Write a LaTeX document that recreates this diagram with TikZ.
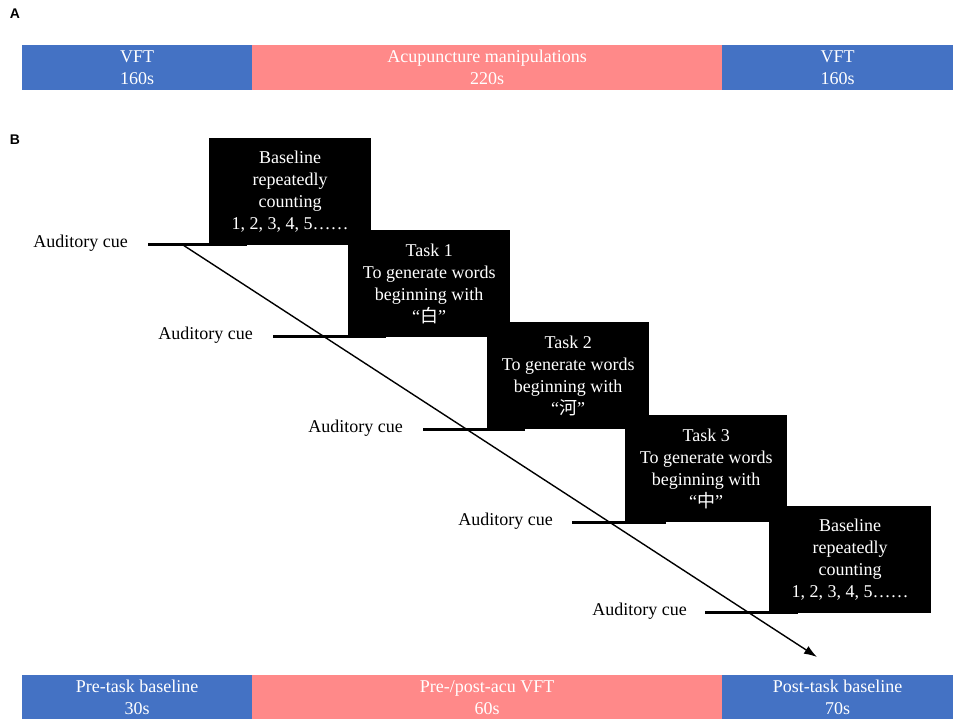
\documentclass[tikz,border=0pt]{standalone}
\usepackage{fontspec}
\setmainfont{Liberation Serif}
\newfontfamily\labelfont{Liberation Sans}
\newfontfamily\cjk{Noto Sans CJK SC}
\usetikzlibrary{arrows.meta}
\definecolor{barblue}{RGB}{68,114,196}
\definecolor{barpink}{RGB}{255,137,137}
\tikzset{
  bar/.style={anchor=north west, inner sep=0pt, minimum height=45pt, text=white, align=center, font=\fontsize{18}{22}\selectfont},
  bluebar/.style={bar, fill=barblue},
  pinkbar/.style={bar, fill=barpink},
  blackbox/.style={anchor=north west, inner sep=0pt, minimum width=162pt, minimum height=107pt, fill=black, text=white, align=center, font=\fontsize{18}{22}\selectfont},
  cuetext/.style={anchor=east, inner sep=0pt, font=\fontsize{18}{22}\selectfont},
  cueline/.style={line width=3pt},
  timearrow/.style={line width=1.4pt, -{Latex[length=13pt,width=9pt]}},
  panel/.style={inner sep=0pt, font=\labelfont\bfseries\fontsize{14}{16}\selectfont}
}
\begin{document}
\begin{tikzpicture}[x=1pt,y=-1pt]
\useasboundingbox (0,0) rectangle (957,727);
% panel labels
\node[panel] (lA) at (15,14) {A};
\node[panel] (lB) at (15,140) {B};
% top bar
\node[bluebar, minimum width=230pt] (a1) at (22,45) {VFT\\160s};
\node[pinkbar, minimum width=470pt] (a2) at (252,45) {Acupuncture manipulations\\220s};
\node[bluebar, minimum width=231pt] (a3) at (722,45) {VFT\\160s};
% bottom bar
\node[bluebar, minimum width=230pt, minimum height=44pt] (c1) at (22,675) {Pre-task baseline\\30s};
\node[pinkbar, minimum width=470pt, minimum height=44pt] (c2) at (252,675) {Pre-/post-acu VFT\\60s};
\node[bluebar, minimum width=231pt, minimum height=44pt] (c3) at (722,675) {Post-task baseline\\70s};
% black boxes
\node[blackbox] (b1) at (209,138) {Baseline\\repeatedly\\counting\\1, 2, 3, 4, 5……};
\node[blackbox] (b2) at (348,230) {Task 1\\To generate words\\beginning with\\“{\cjk 白}”};
\node[blackbox] (b3) at (487,322) {Task 2\\To generate words\\beginning with\\“{\cjk 河}”};
\node[blackbox] (b4) at (625,415) {Task 3\\To generate words\\beginning with\\“{\cjk 中}”};
\node[blackbox] (b5) at (769,506) {Baseline\\repeatedly\\counting\\1, 2, 3, 4, 5……};
% auditory cues
\node[cuetext] (t1) at (128,243) {Auditory cue};
\node[cuetext] (t2) at (253,335) {Auditory cue};
\node[cuetext] (t3) at (403,428) {Auditory cue};
\node[cuetext] (t4) at (553,521) {Auditory cue};
\node[cuetext] (t5) at (687,611) {Auditory cue};
\coordinate (s1) at (148,244); \coordinate (e1) at (247,244);
\coordinate (s2) at (273,336); \coordinate (e2) at (386,336);
\coordinate (s3) at (423,429); \coordinate (e3) at (525,429);
\coordinate (s4) at (572,522); \coordinate (e4) at (666,522);
\coordinate (s5) at (705,612); \coordinate (e5) at (798,612);
\draw[cueline] (s1) -- (e1);
\draw[cueline] (s2) -- (e2);
\draw[cueline] (s3) -- (e3);
\draw[cueline] (s4) -- (e4);
\draw[cueline] (s5) -- (e5);
% time arrow
\coordinate (as) at (183,245);
\coordinate (ae) at (817,657);
\draw[timearrow] (as) -- (ae);
\end{tikzpicture}
\end{document}
